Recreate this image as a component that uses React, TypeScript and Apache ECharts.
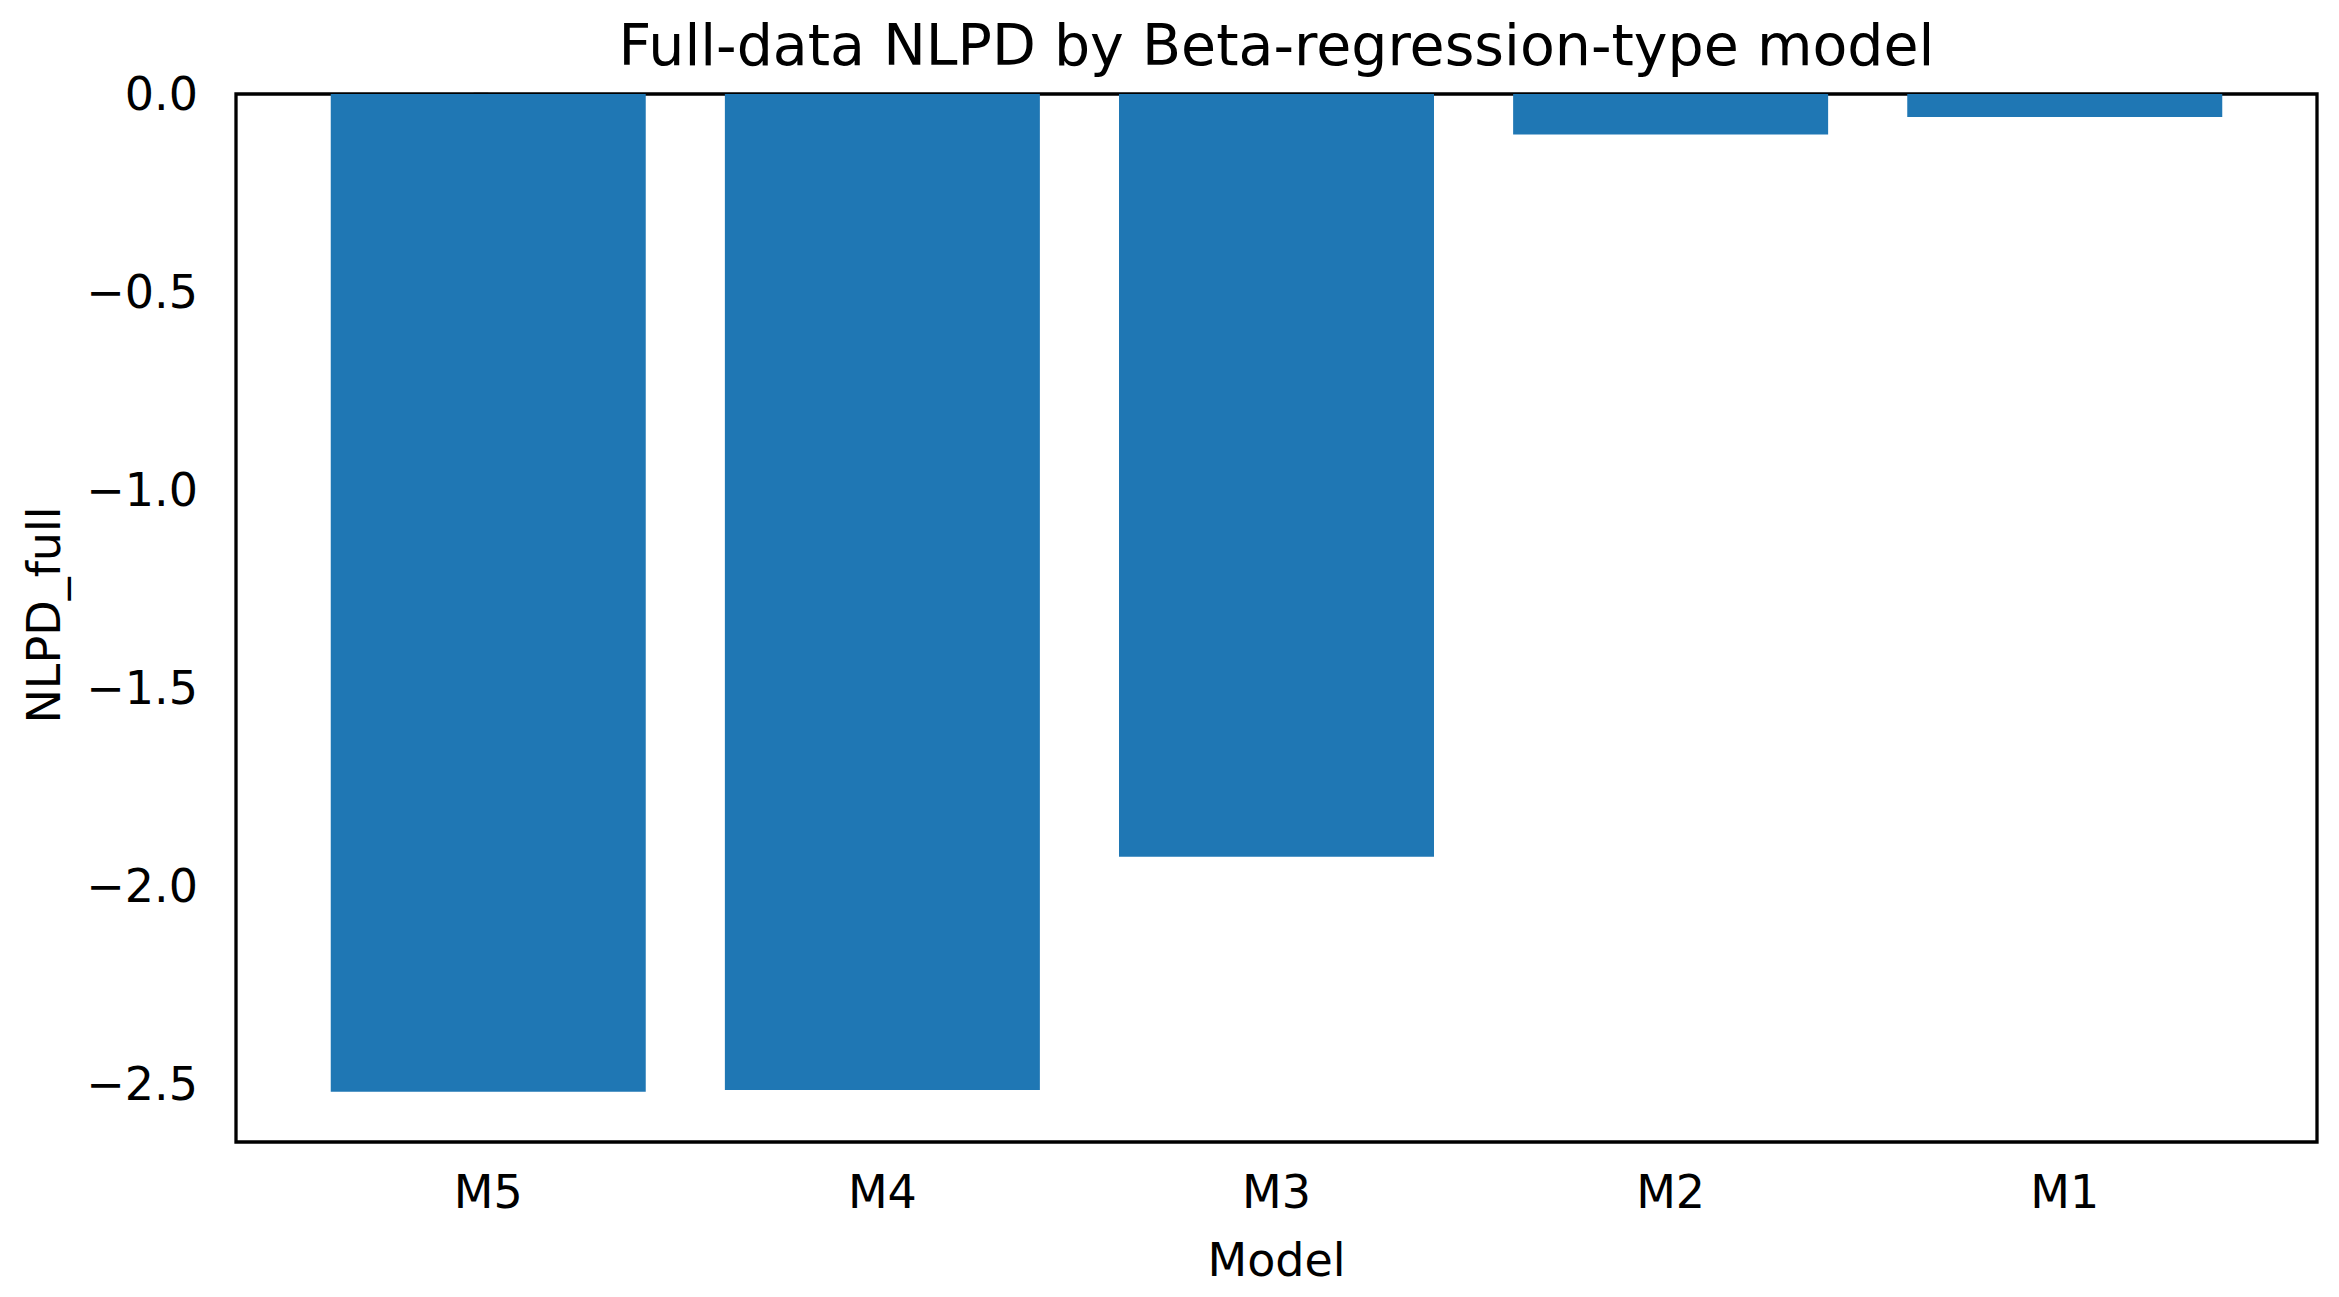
import React, { useEffect, useRef } from "react";
import * as echarts from "echarts";

const categories = ["M5", "M4", "M3", "M2", "M1"];
const nlpdFull = [-2.519, -2.515, -1.926, -0.102, -0.058];
const yTickValues = [-2.5, -2.0, -1.5, -1.0, -0.5, 0.0];
const xTickValues = [0, 1, 2, 3, 4];
const titleText = "Full-data NLPD by Beta-regression-type model";
const xName = "Model";
const yName = "NLPD_full";

const FONT = "DejaVu Sans";

export default function App() {
  const ref = useRef<HTMLDivElement>(null);
  useEffect(() => {
    document.body.style.margin = "0";
    const chart = echarts.init(ref.current!, null, { renderer: "svg" });
    const gridLeft = 236;
    const gridTop = 94;
    const gridW = 2081;
    const gridH = 1048;
    chart.setOption({
      animation: false,
      backgroundColor: "#ffffff",
      grid: {
        left: gridLeft,
        top: gridTop,
        width: gridW,
        height: gridH,
        show: true,
        borderColor: "#000000",
        borderWidth: 3.3,
        backgroundColor: "transparent",
        containLabel: false,
      },
      xAxis: {
        type: "value",
        min: -0.64,
        max: 4.64,
        axisLine: { show: false },
        splitLine: { show: false },
        axisTick: {
          show: true,
          customValues: xTickValues,
          length: 14.6,
          inside: false,
          lineStyle: { color: "#000000", width: 3.3 },
        },
        axisLabel: {
          show: true,
          customValues: xTickValues,
          formatter: (v: number) => categories[Math.round(v)] ?? "",
          fontFamily: FONT,
          fontSize: 46,
          color: "#000000",
          margin: 27,
        },
      },
      yAxis: {
        type: "value",
        min: -2.646,
        max: 0,
        axisLine: { show: false },
        splitLine: { show: false },
        axisTick: {
          show: true,
          customValues: yTickValues,
          length: 14.6,
          inside: false,
          lineStyle: { color: "#000000", width: 3.3 },
        },
        axisLabel: {
          show: true,
          customValues: yTickValues,
          formatter: (v: number) =>
            (v < 0 ? "\u2212" : "") + Math.abs(v).toFixed(1),
          fontFamily: FONT,
          fontSize: 46,
          color: "#000000",
          margin: 38,
        },
      },
      series: [
        {
          type: "bar",
          data: nlpdFull.map((v, i) => [i, v]),
          barWidth: 315,
          itemStyle: { color: "#1f77b4" },
        },
      ],
      graphic: [
        {
          type: "text",
          x: gridLeft + gridW / 2,
          y: 45,
          style: {
            text: titleText,
            fontFamily: FONT,
            fontSize: 57,
            fill: "#000000",
            textAlign: "center",
            textVerticalAlign: "middle",
          },
        },
        {
          type: "text",
          x: gridLeft + gridW / 2,
          y: 1259.5,
          style: {
            text: xName,
            fontFamily: FONT,
            fontSize: 46,
            fill: "#000000",
            textAlign: "center",
            textVerticalAlign: "middle",
          },
        },
        {
          type: "text",
          x: 44,
          y: gridTop + gridH / 2 - 3,
          rotation: Math.PI / 2,
          style: {
            text: yName,
            fontFamily: FONT,
            fontSize: 46,
            fill: "#000000",
            textAlign: "center",
            textVerticalAlign: "middle",
          },
        },
      ],
    });
    return () => chart.dispose();
  }, []);
  return <div ref={ref} style={{ width: 2339, height: 1297 }} />;
}
